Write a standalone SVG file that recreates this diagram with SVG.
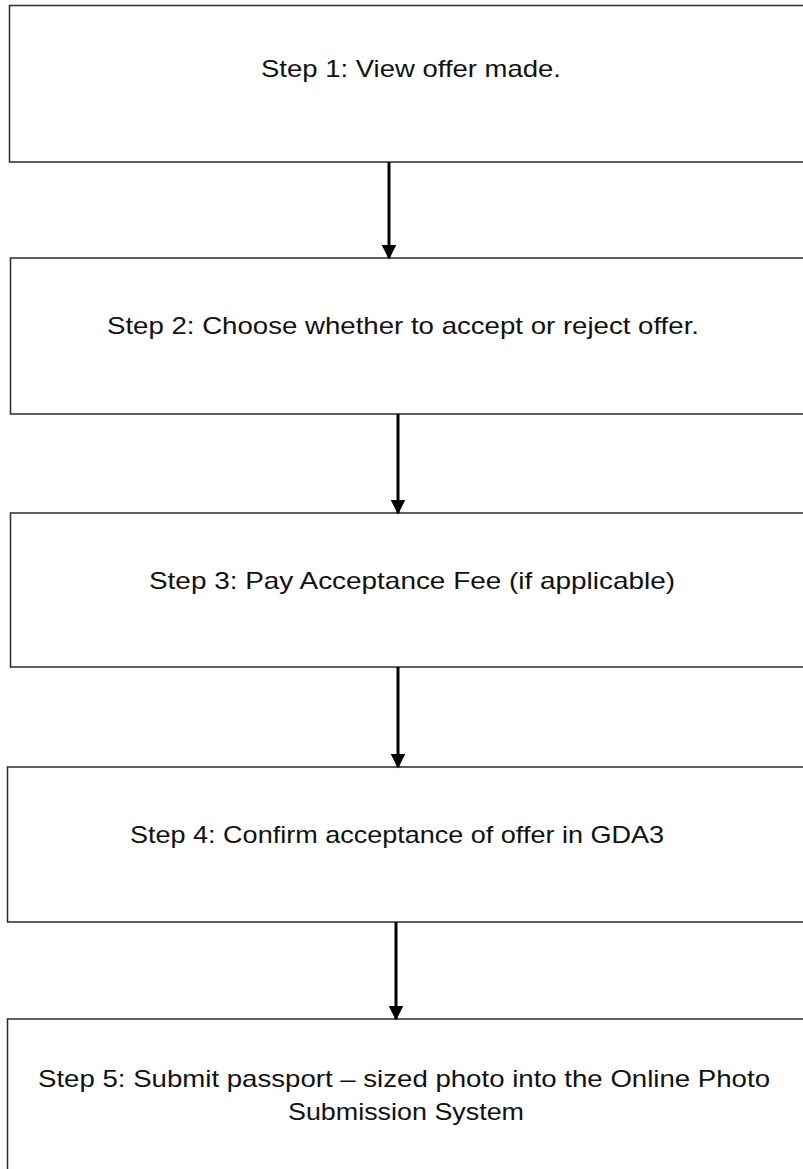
<svg xmlns="http://www.w3.org/2000/svg" width="803" height="1169" viewBox="0 0 803 1169">
  <style>
    .box { fill: #ffffff; stroke: #2b2b2b; stroke-width: 1.5; }
    .lbl { font-family: "Liberation Sans", Arial, sans-serif; font-size: 24px; fill: #111111; text-anchor: middle; }
    .conn { stroke: #000000; stroke-width: 3; fill: none; marker-end: url(#arrow); }
  </style>
  <defs>
    <marker id="arrow" markerWidth="5" markerHeight="5" refX="4.5" refY="2.5" orient="auto" markerUnits="strokeWidth">
      <path d="M0,0 L5,2.5 L0,5 Z" fill="#000000"/>
    </marker>
  </defs>
  <rect width="803" height="1169" fill="#ffffff"/>
  <g id="step1">
    <rect class="box" x="9.5" y="5.5" width="810" height="156.5"/>
    <text class="lbl" x="411" y="77" textLength="300" lengthAdjust="spacingAndGlyphs">Step 1: View offer made.</text>
  </g>
  <g id="step2">
    <rect class="box" x="10.5" y="258" width="810" height="156"/>
    <text class="lbl" x="403" y="334" textLength="592" lengthAdjust="spacingAndGlyphs">Step 2: Choose whether to accept or reject offer.</text>
  </g>
  <g id="step3">
    <rect class="box" x="10.5" y="513" width="810" height="154"/>
    <text class="lbl" x="412" y="589" textLength="526" lengthAdjust="spacingAndGlyphs">Step 3: Pay Acceptance Fee (if applicable)</text>
  </g>
  <g id="step4">
    <rect class="box" x="7.5" y="767" width="810" height="155"/>
    <text class="lbl" x="397" y="843" textLength="534" lengthAdjust="spacingAndGlyphs">Step 4: Confirm acceptance of offer in GDA3</text>
  </g>
  <g id="step5">
    <rect class="box" x="7.5" y="1019" width="810" height="170"/>
    <text class="lbl" x="404" y="1087" textLength="732" lengthAdjust="spacingAndGlyphs">Step 5: Submit passport – sized photo into the Online Photo</text>
    <text class="lbl" x="406" y="1120" textLength="236" lengthAdjust="spacingAndGlyphs">Submission System</text>
  </g>
  <g id="connectors">
    <line class="conn" x1="389" y1="162" x2="389" y2="258"/>
    <line class="conn" x1="398" y1="414" x2="398" y2="513"/>
    <line class="conn" x1="398" y1="667" x2="398" y2="767"/>
    <line class="conn" x1="396" y1="922" x2="396" y2="1019"/>
  </g>
</svg>
